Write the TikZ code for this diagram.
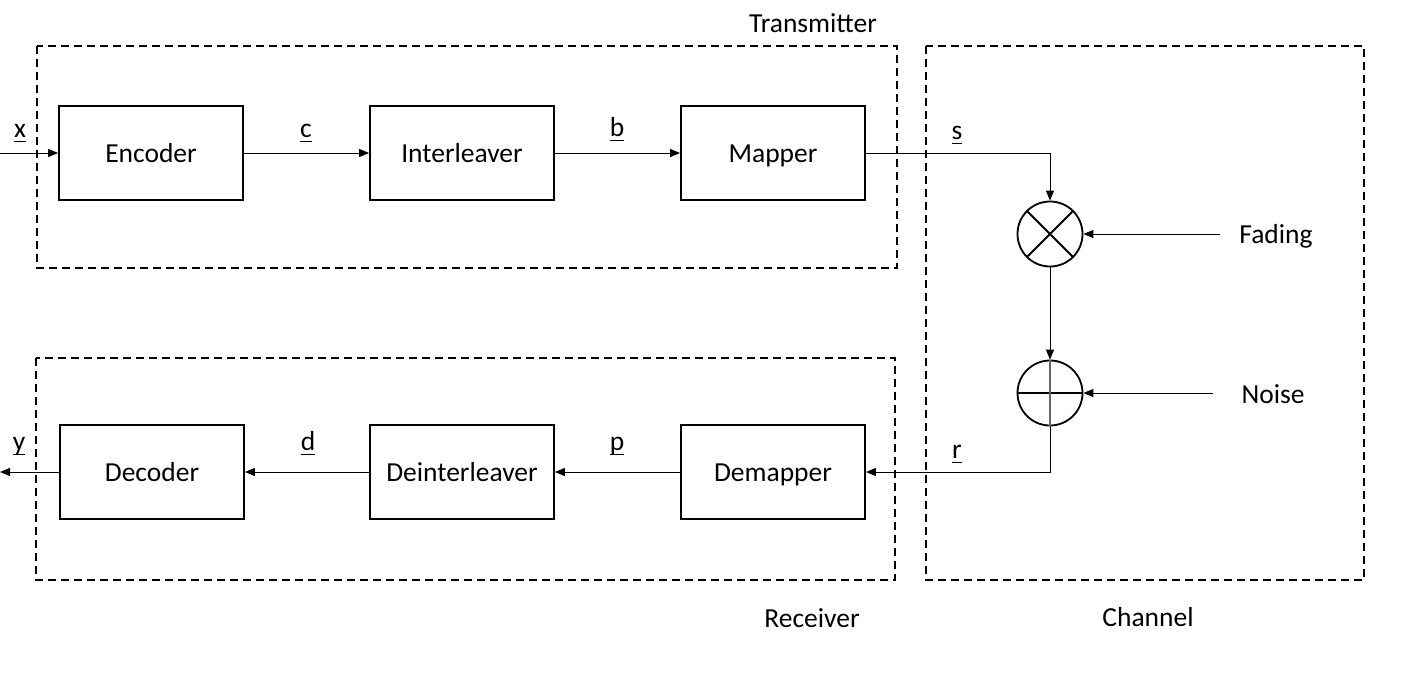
\documentclass[tikz,border=0pt]{standalone}
\usepackage{fontspec}
\setmainfont{Carlito}
\usetikzlibrary{arrows.meta}
\newcommand{\sigul}[1]{\underline{\smash{#1}\rule[-2.5pt]{0pt}{0pt}}}
\begin{document}
\begin{tikzpicture}[x=1pt,y=-1pt,
  blockbox/.style={draw,line width=1.8pt,minimum width=184pt,minimum height=94pt,inner sep=0pt,text height=19pt,text depth=1pt,font=\fontsize{27.5}{30}\selectfont},
  grp/.style={draw,line width=1.6pt,dash pattern=on 8pt off 5pt},
  lbl/.style={font=\fontsize{27.5}{30}\selectfont,inner sep=0pt,text height=18pt,text depth=0pt},
  sig/.style={font=\fontsize{27.5}{30}\selectfont,inner sep=0pt,anchor=base},
  conn/.style={line width=1pt,-{Triangle[length=10pt,width=8pt]}},
  opc/.style={circle,draw,line width=1.8pt,minimum size=65pt,inner sep=0pt}]
\useasboundingbox (0,0) rectangle (1410,673);
% group boxes
\draw[grp] (37,46) rectangle (897,268);
\draw[grp] (36,358) rectangle (895,580);
\draw[grp] (926,46) rectangle (1364,580);
\node[lbl] (ttx) at (813,23) {Transmitter};
\node[lbl] (trx) at (812,618) {Receiver};
\node[lbl] (tch) at (1148,617) {Channel};
% blocks
\node[blockbox] (enc) at (151,153) {Encoder};
\node[blockbox] (int) at (462,153) {Interleaver};
\node[blockbox] (map) at (773,153) {Mapper};
\node[blockbox] (dec) at (152,472) {Decoder};
\node[blockbox] (dei) at (462,472) {Deinterleaver};
\node[blockbox] (dem) at (773,472) {Demapper};
% channel operators
\node[opc] (mul) at (1050,234) {};
\draw[line width=1.8pt] (mul.north east) -- (mul.south west) (mul.north west) -- (mul.south east);
\node[opc] (add) at (1050,393) {};
\draw[line width=1.8pt] (add.west) -- (add.east);
\draw[line width=1.2pt,black!60] (add.north) -- (add.south);
\node[lbl] (fad) at (1276,234) {Fading};
\node[lbl] (noi) at (1273,394) {Noise};
\coordinate (fadin) at (1220,234);
\coordinate (noiin) at (1213,393);
\draw[conn] (fadin) -- (mul.east);
\draw[conn] (noiin) -- (add.east);
% connectors
\coordinate (xin) at (0,153);
\coordinate (yout) at (0,472);
\draw[conn] (xin) -- (enc.west);
\draw[conn] (enc.east) -- (int.west);
\draw[conn] (int.east) -- (map.west);
\draw[conn] (map.east) -| (mul.north);
\draw[conn] (mul.south) -- (add.north);
\draw[conn] (add.south) |- (dem.east);
\draw[conn] (dem.west) -- (dei.east);
\draw[conn] (dei.west) -- (dec.east);
\draw[conn] (dec.west) -- (yout);
% signal labels
\node[sig] (lx) at (20,137) {\sigul{x}};
\node[sig] (lc) at (306,137) {\sigul{c}};
\node[sig] (lb) at (617,136) {\sigul{b}};
\node[sig] (ls) at (957,139) {\sigul{s}};
\node[sig] (lr) at (957,458) {\sigul{r}};
\node[sig] (lp) at (617,450) {\sigul{p}};
\node[sig] (ld) at (308,450) {\sigul{d}};
\node[sig] (ly) at (19,450) {\sigul{y}};
\end{tikzpicture}
\end{document}
